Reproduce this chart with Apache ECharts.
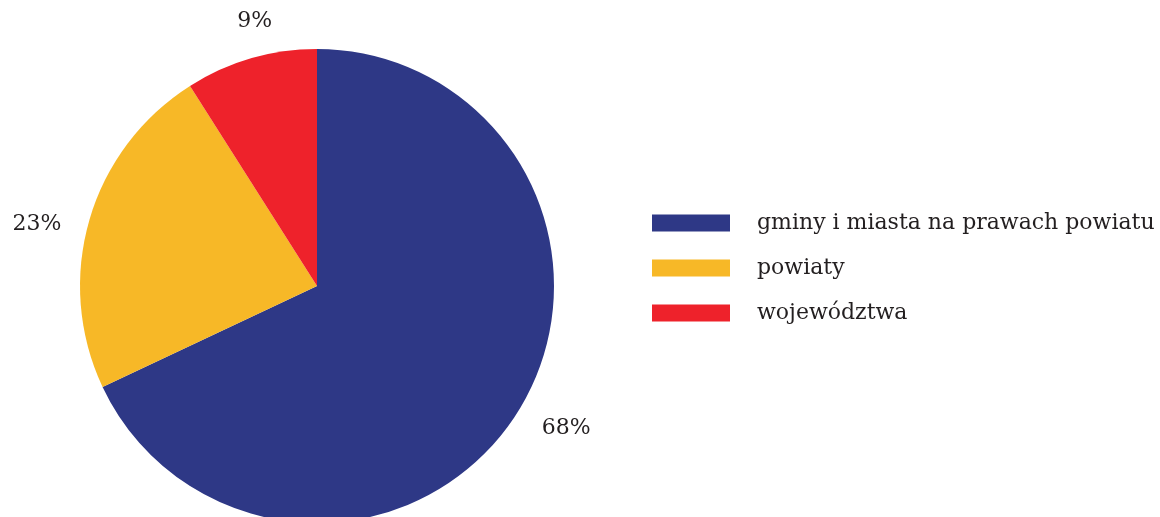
<!DOCTYPE html>
<html><head><meta charset="utf-8">
<script src="https://cdn.jsdelivr.net/npm/echarts@6/dist/echarts.min.js"></script>
<style>html,body{margin:0;padding:0;background:#fff}#c{width:1160px;height:517px}</style>
</head><body><div id="c"></div>
<script>
const categories = ['gminy i miasta na prawach powiatu', 'powiaty', 'województwa'];
const values = [68, 23, 9];
const colors = ['#2E3886', '#F7B827', '#EE222B'];
const labelShift = [[-4, 0], [4, 12], [34, -10]];

const chart = echarts.init(document.getElementById('c'), null, {renderer: 'canvas'});
const font = 'DejaVu Serif';
chart.setOption({
  animation: false,
  legend: {
    orient: 'vertical', left: 652, top: 212, padding: 0,
    icon: 'rect', itemWidth: 78, itemHeight: 17, itemGap: 23,
    selectedMode: false,
    data: categories,
    textStyle: {fontFamily: font, fontSize: 22, color: '#231F20', padding: [0, 0, 0, 22]}
  },
  series: [{
    type: 'pie',
    center: [317, 286], radius: 237,
    startAngle: 90, clockwise: true,
    data: categories.map((n, i) => ({name: n, value: values[i], itemStyle: {color: colors[i]}})),
    label: {show: true, position: 'outside', formatter: '{c}%', fontFamily: font, fontSize: 22, color: '#231F20', overflow: 'none'},
    labelLine: {show: false, length: 28, length2: 0},
    labelLayout: function (p) { const s = labelShift[p.dataIndex]; return {dx: s[0], dy: s[1]}; },
    emphasis: {disabled: true}
  }]
});
</script></body></html>
